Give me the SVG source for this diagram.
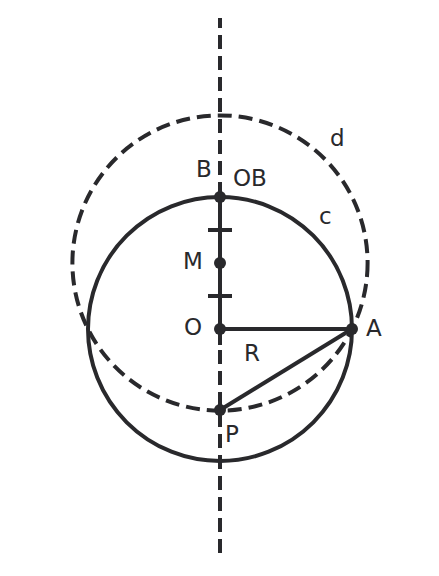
<svg xmlns="http://www.w3.org/2000/svg" width="439" height="576" viewBox="0 0 439 576">
<style>
.s{fill:none;stroke:#29292c;stroke-width:4}
.d{fill:none;stroke:#29292c;stroke-width:4;stroke-dasharray:14 7}
.p{fill:#29292c}
text{font-family:"DejaVu Sans",sans-serif;font-size:23px;fill:#29292c}
</style>
<rect width="439" height="576" fill="#fff"/>
<g id="connectors">
<line class="d" x1="220" y1="18" x2="220" y2="558" stroke-dashoffset="4"/>
<circle id="d" class="d" cx="220" cy="263" r="147.6"/>
<circle id="c" class="s" cx="220" cy="329" r="132"/>
<line class="s" x1="220" y1="197" x2="220" y2="345"/>
<line class="s" x1="208" y1="230" x2="232" y2="230"/>
<line class="s" x1="208" y1="296" x2="232" y2="296"/>
<line class="s" x1="220" y1="329" x2="352" y2="329"/>
<line class="s" x1="220" y1="410" x2="352" y2="329"/>
</g>
<g id="B"><circle class="p" cx="220" cy="197" r="6"/><text x="196" y="177">B</text></g>
<g id="OB"><text x="233" y="186">OB</text></g>
<g id="M"><circle class="p" cx="220" cy="263" r="6"/><text x="183" y="269">M</text></g>
<g id="O"><circle class="p" cx="220" cy="329" r="6"/><text x="184" y="335">O</text></g>
<g id="A"><circle class="p" cx="352" cy="329" r="6"/><text x="366" y="336">A</text></g>
<g id="P"><circle class="p" cx="220" cy="410" r="6"/><text x="225" y="442">P</text></g>
<g id="R"><text x="244" y="361">R</text></g>
<g id="lc"><text x="319" y="224">c</text></g>
<g id="ld"><text x="330" y="146">d</text></g>
</svg>
